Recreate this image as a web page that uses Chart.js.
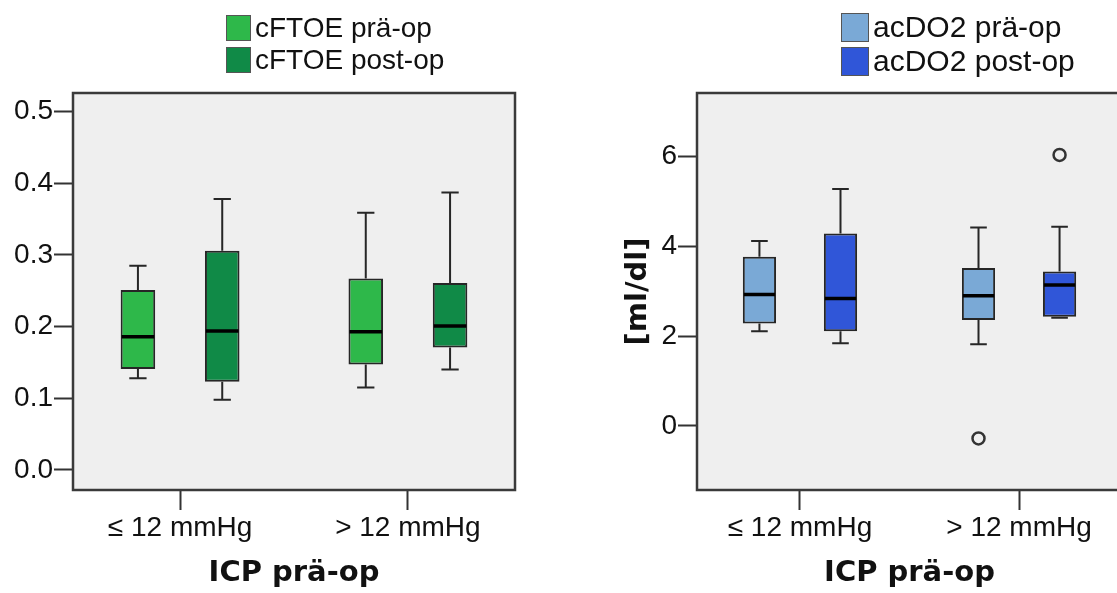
<!DOCTYPE html>
<html>
<head>
<meta charset="utf-8">
<title>cFTOE / acDO2</title>
<script src="https://cdn.jsdelivr.net/npm/chart.js@4.4.1/dist/chart.umd.min.js"></script>
<style>
  html, body { margin: 0; padding: 0; background: #fff; overflow: hidden; width: 1117px; height: 593px; }
  .panel { position: absolute; top: 0; height: 593px; }
  .left { left: 0; width: 560px; }
  .right { left: 560px; width: 580px; }
</style>
</head>
<body>
<div class="panel left"><canvas id="cftoeChart"></canvas></div>
<div class="panel right"><canvas id="acdo2Chart"></canvas></div>

<script>
const groups = ['≤ 12 mmHg', '> 12 mmHg'];
const groupPos = [1, 2];

// [min, q1, median, q3, max] for each group
const cftoePre = [[0.128, 0.141, 0.186, 0.251, 0.285], [0.115, 0.147, 0.193, 0.267, 0.359]];
const cftoePost = [[0.098, 0.123, 0.194, 0.306, 0.378], [0.140, 0.171, 0.201, 0.261, 0.387]];
const acdo2Pre = [[2.11, 2.28, 2.93, 3.77, 4.12], [1.82, 2.36, 2.90, 3.52, 4.42]];
const acdo2Post = [[1.84, 2.11, 2.84, 4.29, 5.28], [2.41, 2.43, 3.14, 3.44, 4.44]];
const acdo2PreOutliers = [[], [-0.28]];
const acdo2PostOutliers = [[], [6.04]];

const cftoeTicks = [0, 0.1, 0.2, 0.3, 0.4, 0.5];
const acdo2Ticks = [0, 2, 4, 6];

const sans = '"Liberation Sans", Arial, sans-serif';
const boldSans = '"DejaVu Sans", Verdana, sans-serif';

function boxDataset(label, color, stats, outliers) {
  return {
    label: label,
    data: stats.map(function(s, i) { return { x: groupPos[i], y: [s[1], s[3]] }; }),
    stats: stats,
    outliers: outliers || [[], []],
    backgroundColor: color,
    borderColor: '#262626',
    borderWidth: 2,
    borderSkipped: false,
    categoryPercentage: 0.74,
    barPercentage: 0.41
  };
}

//background, whiskers, medians, outliers, frame

const boxPlot = {
  id: 'boxPlot',
  beforeDraw: function(chart) {
    const a = chart.chartArea;
    const ctx = chart.ctx;
    ctx.save();
    ctx.fillStyle = '#efefef';
    ctx.fillRect(a.left, a.top, a.right - a.left, a.bottom - a.top);
    ctx.restore();
  },
  afterDatasetsDraw: function(chart) {
    const y = chart.scales.y;
    const ctx = chart.ctx;
    chart.data.datasets.forEach(function(ds, d) {
      chart.getDatasetMeta(d).data.forEach(function(bar, i) {
        const s = ds.stats[i];
        const half = bar.width / 2;
        const cap = bar.width / 4;
        ctx.save();
        ctx.strokeStyle = '#262626';
        ctx.lineWidth = 2;
        ctx.beginPath();
        ctx.moveTo(bar.x, y.getPixelForValue(s[4]));
        ctx.lineTo(bar.x, y.getPixelForValue(s[3]));
        ctx.moveTo(bar.x, y.getPixelForValue(s[1]));
        ctx.lineTo(bar.x, y.getPixelForValue(s[0]));
        ctx.moveTo(bar.x - cap, y.getPixelForValue(s[4]));
        ctx.lineTo(bar.x + cap, y.getPixelForValue(s[4]));
        ctx.moveTo(bar.x - cap, y.getPixelForValue(s[0]));
        ctx.lineTo(bar.x + cap, y.getPixelForValue(s[0]));
        ctx.stroke();

        ctx.strokeStyle = '#000';
        ctx.lineWidth = 3.5;
        ctx.beginPath();
        ctx.moveTo(bar.x - half + 1, y.getPixelForValue(s[2]));
        ctx.lineTo(bar.x + half - 1, y.getPixelForValue(s[2]));
        ctx.stroke();

        ctx.strokeStyle = '#333';
        ctx.lineWidth = 2.5;
        ds.outliers[i].forEach(function(v) {
          ctx.beginPath();
          ctx.arc(bar.x, y.getPixelForValue(v), 6, 0, Math.PI * 2);
          ctx.stroke();
        });
        ctx.restore();
      });
    });
  },
  afterDraw: function(chart) {
    const a = chart.chartArea;
    const ctx = chart.ctx;
    ctx.save();
    ctx.strokeStyle = '#3a3a3a';
    ctx.lineWidth = 2.5;
    ctx.strokeRect(a.left, a.top, a.right - a.left, a.bottom - a.top);
    ctx.restore();
  }
};

//legend

const boxLegend = {
  id: 'boxLegend',
  afterDraw: function(chart, args, opts) {
    const ctx = chart.ctx;
    const x0 = chart.chartArea.left + opts.x;
    ctx.save();
    ctx.font = opts.size + 'px ' + sans;
    ctx.textBaseline = 'middle';
    chart.data.datasets.forEach(function(ds, i) {
      const top = opts.y + i * opts.gap;
      ctx.fillStyle = ds.backgroundColor;
      ctx.fillRect(x0, top, opts.w, opts.h);
      ctx.strokeStyle = '#555';
      ctx.lineWidth = 1;
      ctx.strokeRect(x0 + 0.5, top + 0.5, opts.w - 1, opts.h - 1);
      ctx.fillStyle = '#111';
      ctx.fillText(ds.label, x0 + opts.w + 4, top + opts.h / 2 + 1);
    });
    ctx.restore();
  }
};

//scales

function xScale() {
  return {
    type: 'linear',
    min: 0.53,
    max: 2.47,
    offset: false,
    afterBuildTicks: function(scale) {
      scale.ticks = groupPos.map(function(v) { return { value: v }; });
    },
    afterFit: function(scale) { scale.height = 103; },
    grid: { offset: false, drawOnChartArea: false, drawTicks: true, tickLength: 20, tickWidth: 2, tickColor: '#333' },
    border: { display: false },
    ticks: {
      padding: 1,
      color: '#111',
      font: { family: sans, size: 28 },
      callback: function(value, index) { return groups[index]; }
    },
    title: {
      display: true,
      text: 'ICP prä-op',
      color: '#111',
      font: { family: boldSans, size: 29, weight: 'bold' },
      padding: { top: 0, bottom: 2.6 }
    }
  };
}

function yScale(min, max, ticks, width, fmt, title) {
  return {
    min: min,
    max: max,
    afterBuildTicks: function(scale) {
      scale.ticks = ticks.map(function(v) { return { value: v }; });
    },
    afterFit: function(scale) { scale.width = width; },
    grid: { drawOnChartArea: false, drawTicks: true, tickLength: 19, tickWidth: 2, tickColor: '#333' },
    border: { display: false },
    ticks: {
      padding: 1,
      color: '#111',
      font: { family: sans, size: 28 },
      callback: fmt
    },
    title: title ? {
      display: true,
      text: title,
      color: '#111',
      font: { family: boldSans, size: 29, weight: 'bold' },
      padding: { top: 61, bottom: 0 }
    } : { display: false }
  };
}

//chart

const cftoeChart = new Chart(document.getElementById('cftoeChart'), {
  type: 'bar',
  data: {
    datasets: [
      boxDataset('cFTOE prä-op', '#2eb84a', cftoePre),
      boxDataset('cFTOE post-op', '#108a47', cftoePost)
    ]
  },
  options: {
    responsive: true,
    maintainAspectRatio: false,
    animation: false,
    layout: { padding: { top: 93, right: 45, bottom: 0, left: 0 } },
    scales: {
      x: xScale(),
      y: yScale(-0.028, 0.526, cftoeTicks, 73, function(v) { return v.toFixed(1); })
    },
    plugins: {
      legend: { display: false },
      tooltip: { enabled: false },
      boxLegend: { x: 153, y: 15, w: 25, h: 26, gap: 32, size: 28 }
    }
  },
  plugins: [boxPlot, boxLegend]
});

const acdo2Chart = new Chart(document.getElementById('acdo2Chart'), {
  type: 'bar',
  data: {
    datasets: [
      boxDataset('acDO2 prä-op', '#7aa9d6', acdo2Pre, acdo2PreOutliers),
      boxDataset('acDO2 post-op', '#3056d8', acdo2Post, acdo2PostOutliers)
    ]
  },
  options: {
    responsive: true,
    maintainAspectRatio: false,
    animation: false,
    layout: { padding: { top: 93, right: 18, bottom: 0, left: 0 } },
    scales: {
      x: xScale(),
      y: yScale(-1.43, 7.42, acdo2Ticks, 137, function(v) { return String(v); }, '[ml/dl]')
    },
    plugins: {
      legend: { display: false },
      tooltip: { enabled: false },
      boxLegend: { x: 144, y: 13, w: 28, h: 29, gap: 34, size: 30 }
    }
  },
  plugins: [boxPlot, boxLegend]
});
</script>
</body>
</html>
